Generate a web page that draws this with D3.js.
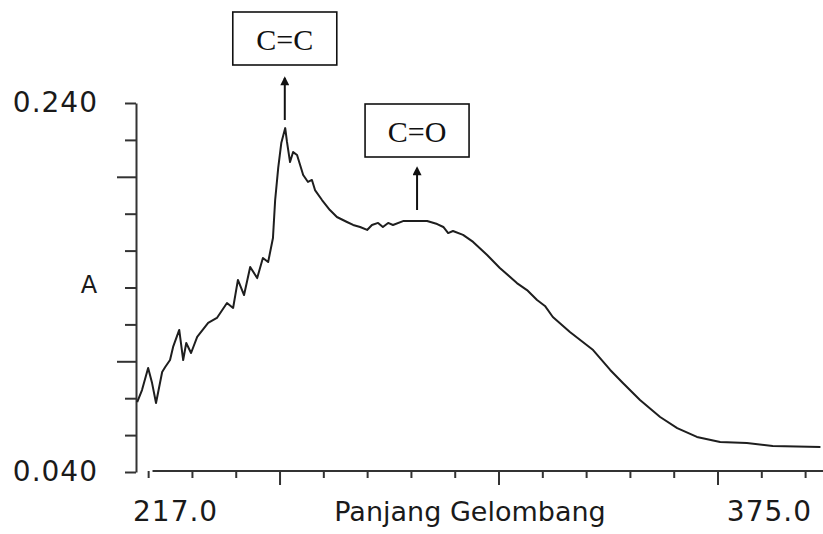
<!DOCTYPE html>
<html>
<head>
<meta charset="utf-8">
<script src="https://cdn.jsdelivr.net/npm/d3@7"></script>
<style>
  body { margin: 0; background: #fff; }
  .lbl { font-family: "DejaVu Sans", sans-serif; fill: #1a1a1a; }
  .box { font-family: "Liberation Serif", "Times New Roman", serif; fill: #111; }
</style>
</head>
<body>
<div id="chart"></div>
<script>
var svgWidth = 823;
var svgHeight = 534;

// wavelength (nm) and absorbance
var wavelength = [217.5, 218.6, 220.0, 220.9, 221.8, 223.2, 223.9, 225.0, 225.7, 227.1,
  228.0, 228.7, 229.8, 231.2, 233.7, 235.7, 238.0, 239.4, 240.5, 241.9,
  243.3, 244.9, 246.2, 247.4, 248.5, 249.0, 249.7, 250.4, 251.3, 251.7,
  252.4, 253.1, 254.0, 254.7, 255.4, 256.5, 257.4, 258.1, 259.7, 261.5,
  263.1, 265.4, 266.8, 268.4, 270.0, 271.1, 272.5, 273.6, 274.8, 275.9,
  278.2, 283.7, 286.0, 287.4, 288.5, 289.6, 291.9, 294.2, 297.4, 300.3,
  304.2, 306.5, 308.8, 310.6, 312.4, 316.3, 321.6, 325.5, 328.4, 332.3,
  336.9, 340.8, 345.3, 350.6, 356.7, 362.6, 373.5];
var absorbance = [0.0779, 0.0844, 0.0964, 0.0882, 0.0774, 0.0942, 0.0969, 0.1007, 0.1078, 0.1170,
  0.1007, 0.1099, 0.1045, 0.1132, 0.1208, 0.1235, 0.1316, 0.1289, 0.1441, 0.1359,
  0.1511, 0.1451, 0.1560, 0.1538, 0.1668, 0.1874, 0.2048, 0.2183, 0.2264, 0.2189,
  0.2080, 0.2134, 0.2118, 0.2064, 0.2010, 0.1972, 0.1983, 0.1928, 0.1874, 0.1820,
  0.1782, 0.1755, 0.1739, 0.1728, 0.1712, 0.1739, 0.1750, 0.1728, 0.1750, 0.1739,
  0.1760, 0.1760, 0.1744, 0.1728, 0.1695, 0.1706, 0.1685, 0.1647, 0.1576, 0.1506,
  0.1424, 0.1386, 0.1332, 0.1300, 0.1240, 0.1159, 0.1061, 0.0953, 0.0882, 0.0790,
  0.0698, 0.0638, 0.0590, 0.0563, 0.0557, 0.0541, 0.0536];

var yTicks = [0.04, 0.06, 0.08, 0.10, 0.12, 0.14, 0.16, 0.18, 0.20, 0.22, 0.24];
var yMajor = [0.10, 0.20];
var xTicks = [220, 230, 240, 250, 260, 270, 280, 290, 300, 310, 320, 330, 340, 350, 360, 370];
var xMajor = [250, 300, 350];
var xEndLabels = ["217.0", "375.0"];

var peaks = [
  {label: "C=C", x: 251.2},
  {label: "C=O", x: 281.4}
];

var svg = d3.select("#chart")
  .append("svg")
  .attr("width", svgWidth)
  .attr("height", svgHeight);

var x = d3.scaleLinear().domain([217, 375]).range([135, 827]);
var y = d3.scaleLinear().domain([0.04, 0.24]).range([472, 103]);

// y axis
var yAxis = svg.append("g")
  .attr("transform", "translate(136,0)")
  .call(d3.axisLeft(y)
    .tickValues(yTicks)
    .tickSizeInner(11)
    .tickSizeOuter(0)
    .tickPadding(27)
    .tickFormat(d => (Math.abs(d - 0.24) < 1e-9 || Math.abs(d - 0.04) < 1e-9) ? d3.format(".3f")(d) : ""));
yAxis.select(".domain").attr("stroke", "#333").attr("stroke-width", 2);
yAxis.selectAll(".tick line")
  .attr("stroke", "#333").attr("stroke-width", 2)
  .attr("x2", d => yMajor.some(m => Math.abs(m - d) < 1e-9) ? -19 : -11);
yAxis.selectAll(".tick text")
  .attr("class", "lbl")
  .style("font-size", "28px")
  .style("letter-spacing", "1px")
  .attr("font-family", null);

svg.append("text")
  .attr("class", "lbl")
  .attr("x", 89)
  .attr("y", (y(0.04) + y(0.24)) / 2 + 5)
  .attr("text-anchor", "middle")
  .style("font-size", "24px")
  .text("A");

// x axis
var xAxis = svg.append("g")
  .attr("transform", "translate(0,471)")
  .call(d3.axisBottom(x)
    .tickValues(xTicks)
    .tickSizeInner(7)
    .tickSizeOuter(0)
    .tickFormat(""));
xAxis.select(".domain").remove();
xAxis.append("line")
  .attr("x1", x(221)).attr("x2", x(374.5))
  .attr("stroke", "#333").attr("stroke-width", 2);
xAxis.selectAll(".tick line")
  .attr("stroke", "#333").attr("stroke-width", 2)
  .attr("y2", d => xMajor.indexOf(d) >= 0 ? 14 : 7);

svg.append("text")
  .attr("class", "lbl")
  .attr("x", x(217) - 2)
  .attr("y", 521)
  .style("font-size", "28px")
  .style("letter-spacing", "1px")
  .text(xEndLabels[0]);
svg.append("text")
  .attr("class", "lbl")
  .attr("x", 812)
  .attr("y", 521)
  .attr("text-anchor", "end")
  .style("font-size", "28px")
  .style("letter-spacing", "1px")
  .text(xEndLabels[1]);
svg.append("text")
  .attr("class", "lbl")
  .attr("x", 470)
  .attr("y", 521)
  .attr("text-anchor", "middle")
  .style("font-size", "27px")
  .text("Panjang Gelombang");

// spectrum
var points = wavelength.map((w, i) => [w, absorbance[i]]);
var line = d3.line()
  .x(d => x(d[0]))
  .y(d => y(d[1]));

svg.append("path")
  .datum(points)
  .attr("d", line)
  .attr("fill", "none")
  .attr("stroke", "#1e1e1e")
  .attr("stroke-width", 2)
  .attr("stroke-linejoin", "round");

// annotations
svg.append("defs").append("marker")
  .attr("id", "arrow")
  .attr("viewBox", "0 0 10 10")
  .attr("refX", 8).attr("refY", 5)
  .attr("markerWidth", 11).attr("markerHeight", 9)
  .attr("markerUnits", "userSpaceOnUse")
  .attr("orient", "auto")
  .append("path")
  .attr("d", "M0,0 L10,5 L0,10 Z")
  .attr("fill", "#111");

var boxTop = [12, 104];
var arrowFrom = [120, 210];
var arrowTo = [78, 168];

peaks.forEach(function(p, i) {
  var cx = x(p.x);
  svg.append("rect")
    .attr("x", cx - 52).attr("y", boxTop[i])
    .attr("width", 104).attr("height", 53)
    .attr("fill", "#fff")
    .attr("stroke", "#111").attr("stroke-width", 1.6);
  svg.append("text")
    .attr("class", "box")
    .attr("x", cx).attr("y", boxTop[i] + 38)
    .attr("text-anchor", "middle")
    .style("font-size", "30px")
    .text(p.label);
  svg.append("line")
    .attr("x1", cx).attr("x2", cx)
    .attr("y1", arrowFrom[i]).attr("y2", arrowTo[i])
    .attr("stroke", "#111").attr("stroke-width", 2)
    .attr("marker-end", "url(#arrow)");
});
</script>
</body>
</html>
